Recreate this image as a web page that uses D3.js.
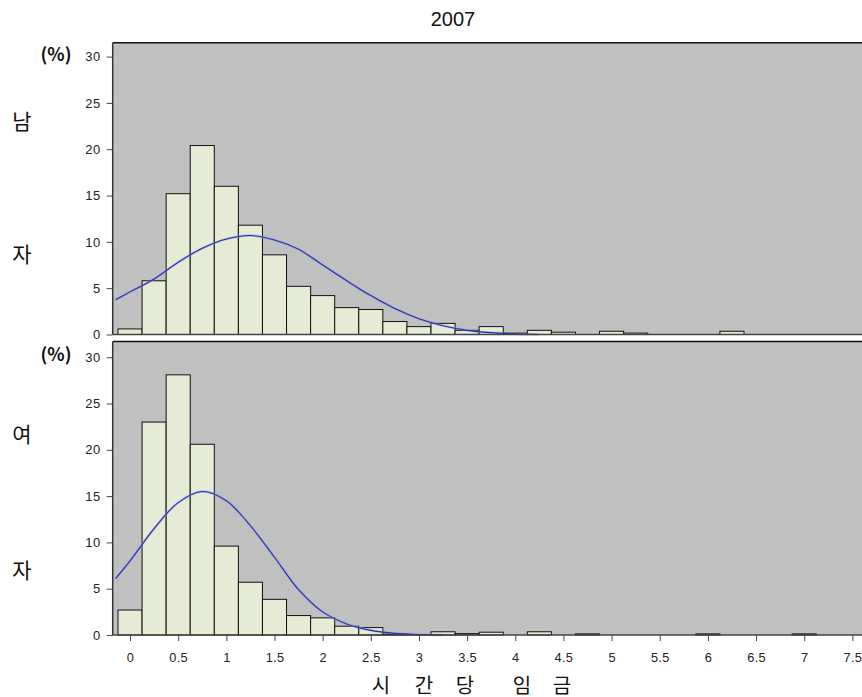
<!DOCTYPE html>
<html><head><meta charset="utf-8">
<script src="https://cdn.jsdelivr.net/npm/d3@7/dist/d3.min.js"></script>
<style>
html,body{margin:0;padding:0;background:#fff;}
svg{display:block;}
</style></head>
<body>
<svg id="chart" width="862" height="697"></svg>
<script>
// ---- data ----
const title = "2007";
const binCenters = [0,0.25,0.5,0.75,1,1.25,1.5,1.75,2,2.25,2.5,2.75,3,3.25,3.5,3.75,4,4.25,4.5,4.75,5,5.25,5.5,5.75,6,6.25,6.5,6.75,7];
const maleValues   = [0.6,5.8,15.2,20.4,16.0,11.8,8.6,5.2,4.2,2.9,2.7,1.4,0.85,1.2,0.45,0.85,0.15,0.45,0.25,0,0.35,0.15,0,0,0,0.35,0,0,0];
const femaleValues = [2.7,23.0,28.1,20.6,9.6,5.7,3.85,2.1,1.85,0.95,0.8,0.1,0.05,0.35,0.15,0.3,0,0.35,0,0.12,0,0,0,0,0.12,0,0,0,0.12];
const maleCurveX = [-0.15,0,0.25,0.5,0.75,1,1.25,1.5,1.75,2,2.25,2.5,2.75,3,3.25,3.5,3.75,4,4.25];
const maleCurveY = [3.75,4.6,6.0,7.8,9.3,10.3,10.68,10.2,9.2,7.5,5.8,4.2,2.8,1.7,0.95,0.45,0.2,0.07,0];
const femaleCurveX = [-0.15,0,0.25,0.5,0.75,1,1.25,1.5,1.75,2,2.25,2.5,2.75,3,3.25];
const femaleCurveY = [6.1,8.0,11.5,14.3,15.5,14.5,11.8,8.4,4.9,2.5,1.2,0.5,0.18,0.05,0];
const yTicks = [0,5,10,15,20,25,30];
const xTicks = [0,0.5,1,1.5,2,2.5,3,3.5,4,4.5,5,5.5,6,6.5,7,7.5];
const xTickLabels = ["0","0.5","1","1.5","2","2.5","3","3.5","4","4.5","5","5.5","6","6.5","7","7.5"];
const unitLabel = "(%)";
const maleLabel = ["남","자"];
const femaleLabel = ["여","자"];
const xLabelChars = ["시","간","당","임","금"];

// ---- layout ----
const svg = d3.select("#chart");
const x = d3.scaleLinear().domain([-0.18, 7.6]).range([112.7, 862]);
const panels = [
  {vals: maleValues, cx: maleCurveX, cy: maleCurveY, y: d3.scaleLinear().domain([0,31.5]).range([334.5,42.7]), lab: maleLabel, labY:[120,253], unitY:53, xaxis:false},
  {vals: femaleValues, cx: femaleCurveX, cy: femaleCurveY, y: d3.scaleLinear().domain([0,31.7]).range([635,341.5]), lab: femaleLabel, labY:[433,569], unitY:353, xaxis:true}
];
const barFill = "#e6ebd5", bg = "#c0c0c0";

panels.forEach(p => {
  const y = p.y;
  const x0 = x.range()[0], x1 = x.range()[1];
  const yTop = y.range()[1], yBase = y.range()[0];
  const g = svg.append("g");
  g.append("rect").attr("x", x0).attr("y", yTop).attr("width", x1 - x0).attr("height", yBase - yTop).attr("fill", bg);

  const data = binCenters.map((c,i)=>({c, v:p.vals[i]})).filter(d=>d.v>0);
  g.selectAll("rect.bar").data(data).enter().append("rect")
    .attr("class","bar")
    .attr("x", d=>x(d.c-0.125)).attr("width", d=>x(d.c+0.125)-x(d.c-0.125))
    .attr("y", d=>y(d.v)).attr("height", d=>yBase - y(d.v))
    .attr("fill", barFill).attr("stroke", "#111").attr("stroke-width", 1);

  const line = d3.line().x(d=>x(d[0])).y(d=>y(d[1])).curve(d3.curveCatmullRom);
  const pts = p.cx.map((v,i)=>[v, p.cy[i]]);
  g.append("path").attr("d", line(pts)).attr("fill","none").attr("stroke","#8f9be6").attr("stroke-width",2.4).attr("opacity",0.6);
  g.append("path").attr("d", line(pts)).attr("fill","none").attr("stroke","#2a2fa8").attr("stroke-width",1.1);

  // borders
  g.append("line").attr("x1", x0).attr("x2", x1).attr("y1", yTop).attr("y2", yTop).attr("stroke","#111").attr("stroke-width",1.5);
  g.append("line").attr("x1", x0).attr("x2", x0).attr("y1", yTop).attr("y2", yBase).attr("stroke","#333").attr("stroke-width",1.5);
  g.append("line").attr("x1", x0).attr("x2", x1).attr("y1", yBase).attr("y2", yBase).attr("stroke","#444").attr("stroke-width",1.5);

  // y axis
  const ya = g.append("g").attr("transform", `translate(${x0},0)`)
    .call(d3.axisLeft(y).tickValues(yTicks).tickSize(6).tickPadding(6));
  ya.select(".domain").remove();
  ya.attr("font-family","'Liberation Sans',Arial,sans-serif").attr("font-size",13);
  ya.selectAll(".tick text").attr("fill","#222").style("letter-spacing","0.5px");
  ya.selectAll(".tick line").attr("stroke","#444");

  if (p.xaxis) {
    const xa = g.append("g").attr("transform", `translate(0,${yBase})`)
      .call(d3.axisBottom(x).tickValues(xTicks).tickFormat((d,i)=>xTickLabels[i]).tickSize(6).tickPadding(12));
    xa.select(".domain").remove();
    xa.attr("font-family","'Liberation Sans',Arial,sans-serif").attr("font-size",12.8);
    xa.selectAll(".tick text").attr("fill","#222").style("letter-spacing","0.3px");
    xa.selectAll(".tick line").attr("stroke","#444");
  }

  svg.append("text").attr("x", 56).attr("y", p.unitY).attr("text-anchor","middle").attr("dominant-baseline","central")
    .attr("font-family","'Noto Sans CJK KR',sans-serif").attr("font-weight","bold").attr("font-size",18).attr("fill","#111").text(unitLabel);
  p.lab.forEach((t,i)=>{
    svg.append("text").attr("x", 22).attr("y", p.labY[i]).attr("text-anchor","middle").attr("dominant-baseline","central")
      .attr("font-family","'Noto Sans CJK KR',sans-serif").attr("font-size",21).attr("fill","#111").text(t);
  });
});

svg.append("text").attr("x", 453).attr("y", 26).attr("text-anchor","middle")
  .attr("font-family","'Liberation Sans',Arial,sans-serif").attr("font-size",20).attr("fill","#111").text(title);

const xl = svg.append("text").attr("y", 684).attr("dominant-baseline","central")
  .attr("font-family","'Noto Sans CJK KR',sans-serif").attr("font-size",20).attr("fill","#111").attr("text-anchor","middle");
const charX = [381,424,465,522,562];
xLabelChars.forEach((c,i)=>{ xl.append("tspan").attr("x", charX[i]).text(c); });
</script>
</body></html>
